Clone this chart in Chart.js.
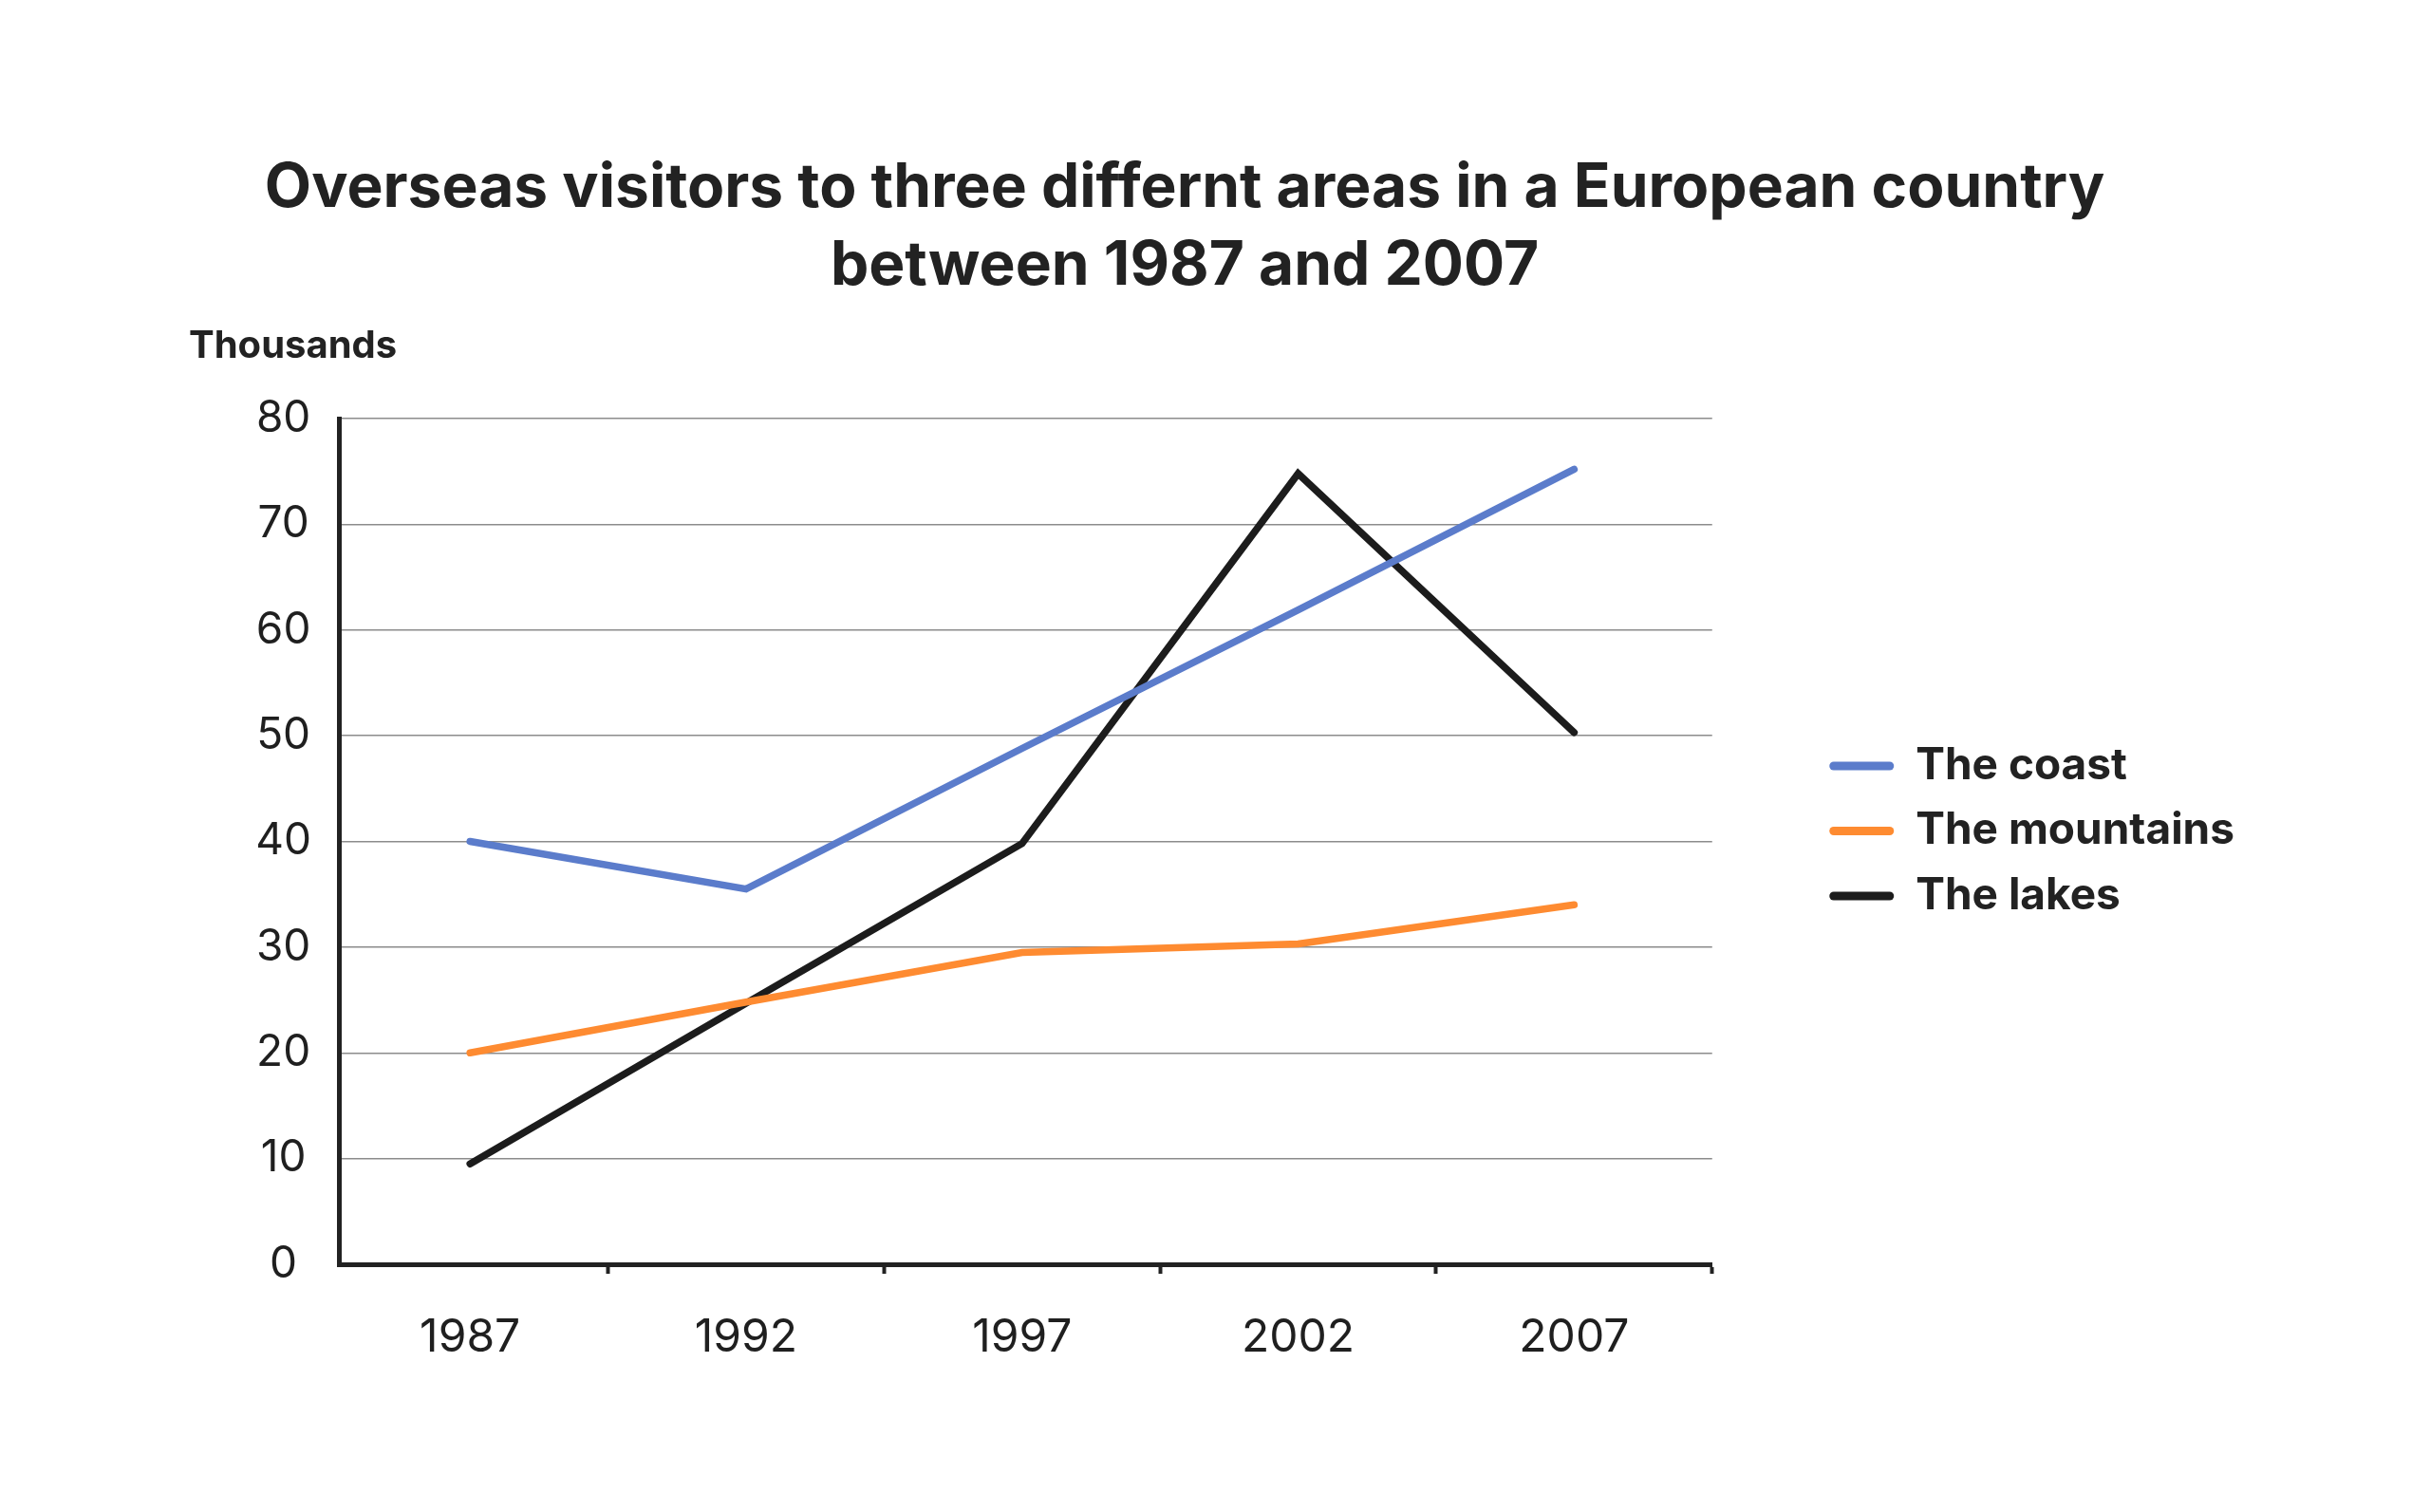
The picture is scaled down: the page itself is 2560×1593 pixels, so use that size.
<!DOCTYPE html>
<html><head><meta charset="utf-8">
<script src="https://cdn.jsdelivr.net/npm/chart.js@4.4.0/dist/chart.umd.min.js"></script>
<style>html,body{margin:0;padding:0;background:#fff;}#wrap{width:2560px;height:1593px;position:relative;}</style>
</head><body><div id="wrap"><canvas id="c"></canvas></div>
<script>
const titleLines = ['Overseas visitors to three differnt areas in a European country', 'between 1987 and 2007'];
const unitLabel = 'Thousands';
const years = ['1987', '1992', '1997', '2002', '2007'];
const seriesNames = ['The coast', 'The mountains', 'The lakes'];
const coast = [40, 35.5, 48.8, 61.9, 75.2];
const mountains = [20, 24.8, 29.5, 30.3, 34];
const lakes = [9.5, 24.7, 39.8, 74.8, 50.3];
const seriesColors = ['#5b7ccb', '#fe8b31', '#1c1c1c'];
const yMin = 0, yMax = 80, yStep = 10;

const FONT = 'Inter';
const TEXT = '#1f1f1f';
const seriesData = [coast, mountains, lakes];

Chart.defaults.font.family = FONT;
Chart.defaults.color = TEXT;

const unitLabelPlugin = {
  id: 'unitLabel',
  afterDraw(chart) {
    const { ctx, chartArea } = chart;
    ctx.save();
    ctx.font = 'bold 40px ' + FONT;
    ctx.fillStyle = '#222';
    ctx.textAlign = 'left';
    ctx.textBaseline = 'middle';
    ctx.fillText(unitLabel, chartArea.left - 158, chartArea.top - 76);
    ctx.restore();
  }
};

new Chart(document.getElementById('c'), {
  type: 'line',
  data: {
    datasets: seriesNames.map((name, i) => ({
      label: name,
      data: years.map((_, j) => ({ x: j, y: seriesData[i][j] })),
      borderColor: seriesColors[i],
      backgroundColor: seriesColors[i],
      borderWidth: 7.5,
      borderCapStyle: 'round',
      borderJoinStyle: 'miter',
      pointRadius: 0,
      pointHoverRadius: 0,
      tension: 0,
      fill: false
    }))
  },
  plugins: [unitLabelPlugin],
  options: {
    responsive: true,
    maintainAspectRatio: false,
    devicePixelRatio: 1,
    animation: false,
    events: [],
    layout: { padding: { left: 132, right: 196, top: 158, bottom: 0 } },
    scales: {
      x: {
        type: 'linear',
        min: -0.4752,
        max: 4.5,
        afterBuildTicks: s => { s.ticks = years.map((_, i) => ({ value: i })); },
        grid: {
          offset: true,
          drawOnChartArea: false,
          drawTicks: true,
          tickLength: 10,
          tickWidth: 4,
          tickColor: '#222',
          color: '#222'
        },
        border: { display: true, color: '#222', width: 5 },
        ticks: {
          callback: v => years[v],
          autoSkip: false,
          maxRotation: 0,
          font: { size: 48 },
          color: TEXT,
          padding: 39
        },
        afterFit: s => { s.height = 261; }
      },
      y: {
        min: yMin,
        max: yMax,
        ticks: { stepSize: yStep, font: { size: 46 }, color: TEXT, padding: 29, crossAlign: 'center' },
        grid: { color: '#8c8c8c', lineWidth: 1.5, drawTicks: false },
        border: { display: true, color: '#222', width: 5 },
        afterFit: s => { s.width = 225; }
      },
      gap: {
        type: 'linear',
        position: 'right',
        display: true,
        grid: { display: false },
        border: { display: false },
        ticks: { display: false },
        afterFit: s => { s.width = 101; }
      }
    },
    plugins: {
      title: {
        display: true,
        text: titleLines,
        color: '#222',
        font: { size: 64, weight: 'bold', lineHeight: '82px' },
        padding: { top: 0, bottom: 119 }
      },
      legend: {
        display: true,
        position: 'right',
        align: 'center',
        maxWidth: 600,
        labels: {
          boxWidth: 68,
          boxHeight: 9,
          padding: 22.5,
          color: '#222',
          font: { size: 46, weight: 'bold' },
          generateLabels: chart => {
            const items = Chart.defaults.plugins.legend.labels.generateLabels(chart);
            items.forEach(it => { it.lineWidth = 0; it.fillStyle = it.strokeStyle; it.borderRadius = 4.5; });
            return items;
          }
        }
      },
      tooltip: { enabled: false }
    }
  }
});
</script>
</body></html>
